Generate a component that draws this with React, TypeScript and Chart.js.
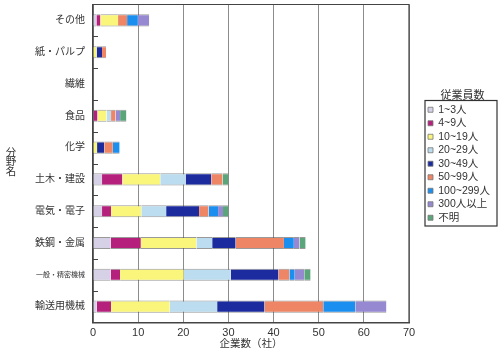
import React, { useEffect, useRef } from "react";
import { Chart, registerables } from "chart.js";

Chart.register(...registerables);

const categories = ["その他", "紙・パルプ", "繊維", "食品", "化学", "土木・建設", "電気・電子", "鉄鋼・金属", "一般・精密機械", "輸送用機械"];
const seriesLabels = ["1~3人", "4~9人", "10~19人", "20~29人", "30~49人", "50~99人", "100~299人", "300人以上", "不明"];
const seriesColors = ["#d6d1e6", "#b5207d", "#faf67c", "#bcdcef", "#1c2c9e", "#ee8565", "#1b8ff0", "#9689d2", "#5aa57a"];

const s1to3 = [0.75, 0, 0, 0, 0, 2, 2, 3.9, 3.9, 0.8];
const s4to9 = [0.9, 0, 0, 1, 0, 4.5, 2, 6.7, 2.1, 3.2];
const s10to19 = [3.9, 0.8, 0, 2, 0.9, 8.4, 6.7, 12.3, 14.1, 13];
const s20to29 = [0, 0, 0, 1, 0, 5.6, 5.5, 3.5, 10.4, 10.5];
const s30to49 = [0, 1.2, 0, 0, 1.6, 5.7, 7.3, 5.2, 10.6, 10.5];
const s50to99 = [2, 0.9, 0, 1, 1.9, 2.5, 2.1, 10.7, 2.4, 13];
const s100to299 = [2.4, 0, 0, 0, 1.5, 0, 2.1, 2.2, 1.2, 7.1];
const s300plus = [2.5, 0, 0, 1, 0, 0, 1.1, 1.25, 2.1, 6.9];
const sUnknown = [0, 0, 0, 1.4, 0, 1.3, 1.2, 1.35, 1.4, 0];

const seriesValues = [s1to3, s4to9, s10to19, s20to29, s30to49, s50to99, s100to299, s300plus, sUnknown];

const xTicks = [0, 10, 20, 30, 40, 50, 60, 70];
const xTitle = "企業数（社）";
const yTitle = "分野名";
const legendTitle = "従業員数";

const FONT = "'Liberation Sans', Arial, 'Noto Sans CJK JP', sans-serif";
const TEXT = "#333";

const LEGEND_W = 91;
const LEGEND_INSET = 16;
const LEGEND_SHIFT_UP = 20;

const framePlugin = {
  id: "frame",
  beforeLayout(chart: any) {
    const lg = chart.legend;
    if (lg && !lg.__patched) {
      const orig = lg.fit.bind(lg);
      lg.fit = function () {
        orig();
        this.width = LEGEND_W;
      };
      lg.__patched = true;
    }
  },
  afterLayout(chart: any) {
    const lg = chart.legend;
    if (!lg) return;
    lg.left += LEGEND_INSET;
    lg.width -= LEGEND_INSET;
    lg.top -= LEGEND_SHIFT_UP;
    lg.bottom -= LEGEND_SHIFT_UP;
  },
  afterDraw(chart: any) {
    const { ctx, chartArea } = chart;
    const y = chart.scales.y;
    ctx.save();
    ctx.strokeStyle = "#444";
    ctx.lineWidth = 1.2;
    ctx.beginPath();
    ctx.moveTo(chartArea.left, chartArea.top);
    ctx.lineTo(chartArea.right, chartArea.top);
    ctx.lineTo(chartArea.right, chartArea.bottom);
    ctx.stroke();
    ctx.lineWidth = 1;
    for (let i = 1; i < categories.length; i++) {
      const py = (y.getPixelForValue(i - 1) + y.getPixelForValue(i)) / 2;
      ctx.beginPath();
      ctx.moveTo(chartArea.left, Math.round(py) + 0.5);
      ctx.lineTo(chartArea.left + 5, Math.round(py) + 0.5);
      ctx.stroke();
    }
    ctx.fillStyle = TEXT;
    ctx.font = `10.5px ${FONT}`;
    ctx.textAlign = "center";
    ctx.textBaseline = "middle";
    const chars = Array.from(yTitle);
    const mid = (chartArea.top + chartArea.bottom) / 2 - 1;
    const step = 9.5;
    chars.forEach((c, i) => {
      ctx.fillText(c, 11, mid + (i - (chars.length - 1) / 2) * step);
    });
    const lg = chart.legend;
    if (lg && lg.legendHitBoxes && lg.legendHitBoxes.length) {
      const hb = lg.legendHitBoxes;
      let minX = Infinity, minY = Infinity, maxY = -Infinity;
      hb.forEach((b: any) => {
        minX = Math.min(minX, b.left);
        minY = Math.min(minY, b.top);
        maxY = Math.max(maxY, b.top + b.height);
      });
      ctx.strokeStyle = "#333";
      ctx.lineWidth = 1.2;
      ctx.strokeRect(minX - 3, minY - 4, 497 - (minX - 3), maxY - minY + 7);
    }
    ctx.restore();
  },
};

export default function App() {
  const ref = useRef<HTMLCanvasElement | null>(null);
  useEffect(() => {
    if (!ref.current) return;
    const chart = new Chart(ref.current, {
      type: "bar",
      data: {
        labels: categories,
        datasets: seriesLabels.map((label, i) => ({
          label,
          data: seriesValues[i],
          backgroundColor: seriesColors[i],
          borderColor: "rgba(70,70,70,0.55)",
          borderWidth: { top: 1, bottom: 1, left: 0, right: 0 },
          borderSkipped: false,
          barPercentage: 0.38,
          categoryPercentage: 1,
        })),
      },
      options: {
        indexAxis: "y",
        animation: false,
        responsive: true,
        maintainAspectRatio: false,
        layout: { padding: { top: 4.5, left: 0, right: 0, bottom: 0 } },
        scales: {
          x: {
            stacked: true,
            min: 0,
            max: 70,
            afterBuildTicks: (scale: any) => {
              scale.ticks = xTicks.map((v) => ({ value: v }));
            },
            afterFit: (scale: any) => {
              scale.height = 29.5;
              scale.paddingLeft = 0;
              scale.paddingRight = 0;
            },
            grid: { color: "#8c8c8c", lineWidth: 1, drawTicks: false },
            border: { color: "#444", width: 1.5 },
            ticks: { color: TEXT, font: { family: FONT, size: 11 }, padding: 4 },
            title: {
              display: true,
              text: xTitle,
              color: TEXT,
              font: { family: FONT, size: 10.5, lineHeight: 1.2 },
              padding: { top: 0, bottom: 2 },
            },
          },
          y: {
            stacked: true,
            afterFit: (scale: any) => {
              scale.width = 93;
              scale.paddingTop = 0;
              scale.paddingBottom = 0;
            },
            grid: { display: false, drawTicks: false },
            border: { color: "#444", width: 1.5 },
            ticks: {
              color: TEXT,
              padding: 8,
              font: (ctx: any) => ({ family: FONT, size: ctx.index === 8 ? 7 : 10 }),
            },
          },
        },
        plugins: {
          tooltip: { enabled: false },
          legend: {
            position: "right",
            align: "center",
            title: {
              display: true,
              text: legendTitle,
              color: TEXT,
              font: { family: FONT, size: 11, lineHeight: 1 },
              padding: { top: 0, bottom: 0 },
            },
            labels: {
              boxWidth: 5,
              boxHeight: 5,
              padding: 3,
              color: TEXT,
              font: { family: FONT, size: 10.5 },
              generateLabels: (chart: any) =>
                chart.data.datasets.map((ds: any, i: number) => ({
                  text: ds.label,
                  fillStyle: ds.backgroundColor,
                  strokeStyle: "#777",
                  lineWidth: 0.8,
                  hidden: false,
                  datasetIndex: i,
                  fontColor: TEXT,
                })),
            },
          },
        },
      },
      plugins: [framePlugin],
    } as any);
    return () => chart.destroy();
  }, []);
  return (
    <div style={{ position: "fixed", left: 0, top: 0, width: 500, height: 352, background: "#fff" }}>
      <canvas ref={ref} />
    </div>
  );
}
